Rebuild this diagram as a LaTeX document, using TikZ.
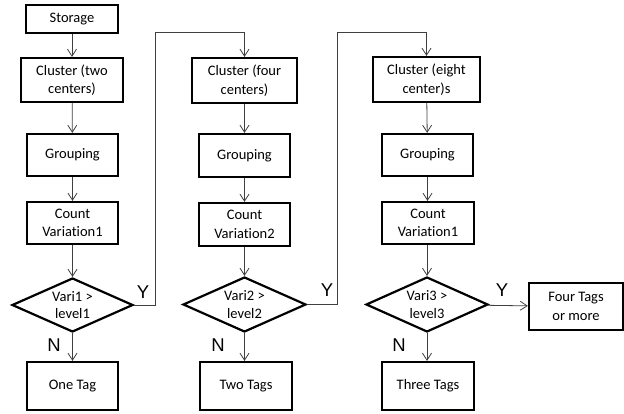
\documentclass[tikz,border=0pt]{standalone}
\usepackage{fontspec}
\setmainfont{Carlito}[Ligatures={NoCommon}]
\newfontfamily\ynfont{Liberation Sans}
\usetikzlibrary{shapes.geometric,arrows.meta}
\begin{document}
\begin{tikzpicture}[x=1pt,y=-1pt,
  box/.style={draw=black,line width=2.2pt,rectangle,inner sep=0pt,align=center,
    font=\fontsize{14.5}{18.5}\selectfont},
  dia/.style={draw=black,line width=2.2pt,diamond,inner sep=0pt,
    minimum width=121pt,minimum height=54pt},
  dtext/.style={align=center,inner sep=0pt,font=\fontsize{14.5}{17.5}\selectfont},
  conn/.style={draw=black!75,line width=0.8pt,-{Straight Barb[length=7pt,width=9pt,line width=0.8pt]}},
  yn/.style={font=\ynfont\fontsize{18.5}{20}\selectfont,inner sep=0pt}]
\useasboundingbox (0,0) rectangle (624,414);
% column 1
\node[box,minimum width=92pt,minimum height=28pt] (s) at (72,19) {Storage};
\node[box,minimum width=102pt,minimum height=44pt] (c1) at (72,80) {Cluster (two\\centers)};
\node[box,minimum width=91pt,minimum height=42pt] (g1) at (72.5,155) {Grouping};
\node[box,minimum width=91pt,minimum height=42pt] (v1) at (72.5,223) {Count\\Variation1};
\node[dia] (d1) at (72.5,305) {};
\node[dtext] (d1t) at (72.5,305) {Vari1 >\\level1};
\node[box,minimum width=91pt,minimum height=48pt] (t1) at (72.5,386) {One Tag};
% column 2
\node[box,minimum width=105pt,minimum height=45pt] (c2) at (244.5,80.5) {Cluster (four\\centers)};
\node[box,minimum width=91pt,minimum height=43pt] (g2) at (244.5,155.5) {Grouping};
\node[box,minimum width=91pt,minimum height=43pt] (v2) at (244.5,224.5) {Count\\Variation2};
\node[dia,minimum width=123pt,minimum height=55pt] (d2) at (244.5,304.5) {};
\node[dtext] (d2t) at (244.5,304.5) {Vari2 >\\level2};
\node[box,minimum width=92pt,minimum height=48pt] (t2) at (246,386) {Two Tags};
% column 3
\node[box,minimum width=107pt,minimum height=45pt] (c3) at (426.5,79.5) {Cluster (eight\\center)s};
\node[box,minimum width=91pt,minimum height=42pt] (g3) at (427.5,155) {Grouping};
\node[box,minimum width=92pt,minimum height=42pt] (v3) at (428,223) {Count\\Variation1};
\node[dia,minimum width=122pt,minimum height=55pt] (d3) at (427,304.5) {};
\node[dtext] (d3t) at (427,304.5) {Vari3 >\\level3};
\node[box,minimum width=92pt,minimum height=48pt] (t3) at (428,386) {Three Tags};
\node[box,minimum width=94pt,minimum height=47pt] (t4) at (576,306.5) {Four Tags\\or more};
% loop corners
\coordinate (a1) at (155,305);
\coordinate (a2) at (155,32);
\coordinate (a3) at (244.5,32);
\coordinate (b1) at (337,304.5);
\coordinate (b2) at (337,32);
\coordinate (b3) at (426.5,32);
% connectors
\draw[conn] (s) -- (c1);
\draw[conn] (c1) -- (g1);
\draw[conn] (g1) -- (v1);
\draw[conn] (v1) -- (d1);
\draw[conn] (d1) -- (t1);
\draw[conn] (c2) -- (g2);
\draw[conn] (g2) -- (v2);
\draw[conn] (v2) -- (d2);
\draw[conn] (d2) -- (t2.north -| d2.south);
\draw[conn] (c3) -- (g3);
\draw[conn] (g3) -- (v3.north -| g3.south);
\draw[conn] (v3.south -| d3.north) -- (d3);
\draw[conn] (d3) -- (t3.north -| d3.south);
\draw[conn] (d3) -- (t4);
\draw[conn] (d1.east) -- (a1) -- (a2) -- (a3) -- (c2.north);
\draw[conn] (d2.east) -- (b1) -- (b2) -- (b3) -- (c3.north);
% labels
\node[yn] (y1) at (143,292) {Y};
\node[yn] (n1) at (54,345) {N};
\node[yn] (y2) at (327,290) {Y};
\node[yn] (n2) at (218,345) {N};
\node[yn] (y3) at (502,290) {Y};
\node[yn] (n3) at (399,345) {N};
\end{tikzpicture}
\end{document}
